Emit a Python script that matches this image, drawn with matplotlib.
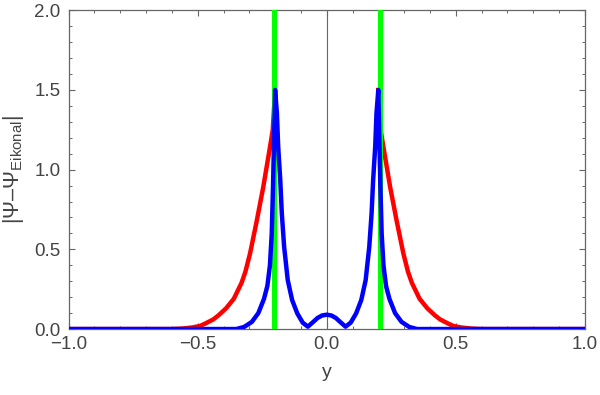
import numpy as np
import matplotlib
matplotlib.use("Agg")
import matplotlib.pyplot as plt
from matplotlib.ticker import MultipleLocator

plt.rcParams['font.family'] = ['Liberation Sans', 'DejaVu Sans']
plt.rcParams['mathtext.fontset'] = 'custom'
plt.rcParams['mathtext.rm'] = 'Liberation Sans'
plt.rcParams['mathtext.it'] = 'Liberation Sans'

# Data
# blue curve over the full range
blue_x = [-1.0, -0.35, -0.32, -0.29, -0.265, -0.243, -0.23, -0.22, -0.213, -0.208, -0.204, -0.2,
          -0.193, -0.188, -0.18, -0.174, -0.165, -0.151, -0.134, -0.114, -0.093, -0.073,
          -0.052, -0.035, -0.018, 0.0,
          0.018, 0.035, 0.052, 0.073, 0.093, 0.114, 0.134, 0.151, 0.165, 0.174, 0.18,
          0.188, 0.193, 0.2, 0.204, 0.208, 0.213, 0.22, 0.23, 0.243, 0.265, 0.29, 0.32, 0.35, 1.0]
blue_y = [0.0, 0.0, 0.013, 0.045, 0.1, 0.19, 0.27, 0.4, 0.6, 0.9, 1.2, 1.5,
          1.354, 1.144, 0.935, 0.726, 0.516, 0.307, 0.182, 0.098, 0.04,
          0.015, 0.045, 0.07, 0.085, 0.09,
          0.085, 0.07, 0.045, 0.015, 0.04, 0.098, 0.182, 0.307, 0.516, 0.726, 0.935,
          1.144, 1.354, 1.5, 1.2, 0.9, 0.6, 0.4, 0.27, 0.19, 0.1, 0.045, 0.013, 0.0, 0.0]

# red curve, only outside the two peaks
red_left_x = [-1.0, -0.6, -0.56, -0.52, -0.49, -0.47, -0.44, -0.42, -0.39, -0.36, -0.33,
              -0.315, -0.297, -0.271, -0.246, -0.22, -0.209, -0.2]
red_left_y = [0.0, 0.0, 0.003, 0.01, 0.02, 0.035, 0.06, 0.085, 0.13, 0.19, 0.29,
              0.36, 0.475, 0.68, 0.89, 1.14, 1.25, 1.5]
red_right_x = [0.2, 0.209, 0.22, 0.246, 0.271, 0.297, 0.315, 0.33, 0.36, 0.39, 0.42,
               0.44, 0.47, 0.49, 0.52, 0.56, 0.6, 1.0]
red_right_y = [1.5, 1.25, 1.14, 0.89, 0.68, 0.475, 0.36, 0.29, 0.19, 0.13, 0.085,
               0.06, 0.035, 0.02, 0.01, 0.003, 0.0, 0.0]

green_x = [-0.205, 0.205]

fig = plt.figure(figsize=(6.0, 3.95), dpi=100)
ax = fig.add_axes([0.1145, 0.167, 0.86, 0.807])

ax.axvline(0, color='#666666', lw=0.8, zorder=1)
ax.plot(red_left_x, red_left_y, color='#ff0000', lw=3.2, solid_joinstyle='round', zorder=2)
ax.plot(red_right_x, red_right_y, color='#ff0000', lw=3.2, solid_joinstyle='round', zorder=2)
for gx in green_x:
    ax.axvline(gx, color='#00ff00', lw=3.6, zorder=3)
ax.plot(blue_x, blue_y, color='#0000ff', lw=3.2, solid_joinstyle='round', zorder=4)

ax.set_xlim(-1, 1)
ax.set_ylim(0, 2)
ax.xaxis.set_major_locator(MultipleLocator(0.5))
ax.xaxis.set_minor_locator(MultipleLocator(0.1))
ax.yaxis.set_major_locator(MultipleLocator(0.5))
ax.yaxis.set_minor_locator(MultipleLocator(0.1))

for s in ax.spines.values():
    s.set_color('#666666')
    s.set_linewidth(0.9)
ax.tick_params(which='both', direction='in', top=True, right=True,
               color='#666666', labelcolor='#444444', labelsize=13.5)
ax.tick_params(which='major', length=4.5, width=0.8, pad=5)
ax.tick_params(which='minor', length=2.5, width=0.7)
ax.tick_params(axis='y', which='major', pad=6)

ax.set_xlabel('y', fontsize=14, color='#444444', labelpad=8)
ax.set_ylabel(r'|Ψ–Ψ$_{\mathrm{Eikonal}}$|', fontsize=15.5, color='#444444', labelpad=6)

fig.savefig('out.png', dpi=100)
